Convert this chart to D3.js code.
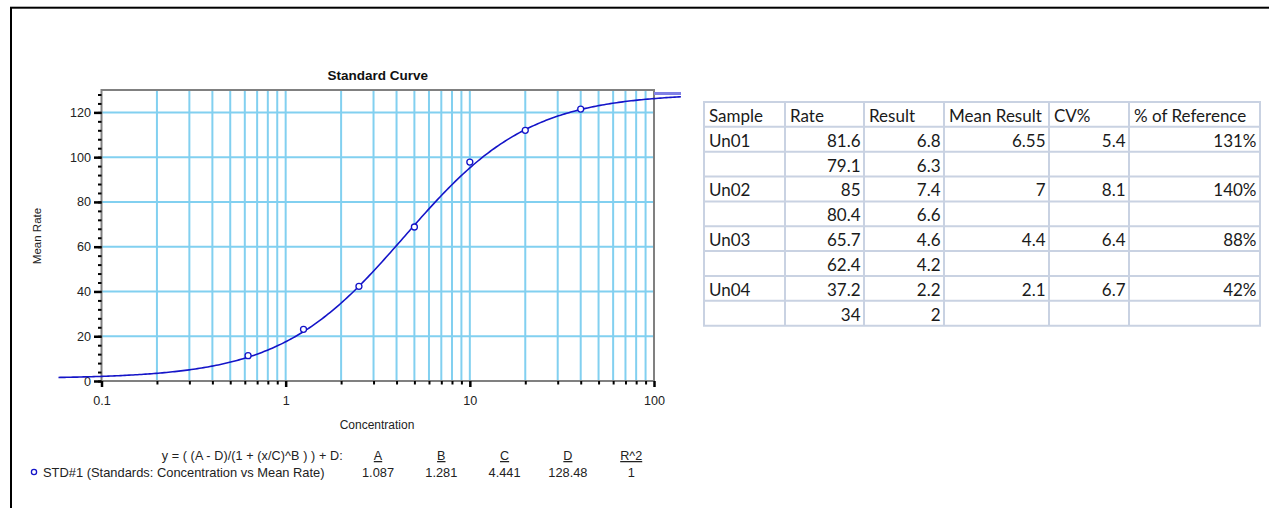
<!DOCTYPE html>
<html><head><meta charset="utf-8">
<script src="https://cdn.jsdelivr.net/npm/d3@7"></script>
<style>body{margin:0;background:#fff;} svg{display:block;}</style>
</head><body>
<svg id="c" width="1269" height="508"></svg>
<script>
// ---- chart data ----
const concentrations = [0.625, 1.25, 2.5, 5, 10, 20, 40];
const meanRates = [11.3, 23.1, 42.3, 68.8, 97.8, 112.0, 121.5];
const fitA = 1.087, fitB = 1.281, fitC = 4.441, fitD = 128.48, fitR2 = 1;
const fitNames = ["A", "B", "C", "D", "R^2"];
const fitValues = ["1.087", "1.281", "4.441", "128.48", "1"];
const yTicks = [0, 20, 40, 60, 80, 100, 120];
const xDecades = [0.1, 1, 10, 100];
const xTickLabels = ["0.1", "1", "10", "100"];
const curveRange = [0.0584, 140];

// ---- table data ----
const tableHeaders = ["Sample", "Rate", "Result", "Mean Result", "CV%", "% of Reference"];
const samples = ["Un01", "", "Un02", "", "Un03", "", "Un04", ""];
const rates = [81.6, 79.1, 85, 80.4, 65.7, 62.4, 37.2, 34];
const results = [6.8, 6.3, 7.4, 6.6, 4.6, 4.2, 2.2, 2];
const meanResults = [6.55, null, 7, null, 4.4, null, 2.1, null];
const cvPercent = [5.4, null, 8.1, null, 6.4, null, 6.7, null];
const pctReference = [131, null, 140, null, 88, null, 42, null];

const svg = d3.select('#c');
const FONT = '"Liberation Sans", Arial, sans-serif';
const gridColor = '#82D0F0';
const blue = '#1414C8';

// outer frame
svg.append('rect').attr('x', 11).attr('y', 7.7).attr('width', 1400).attr('height', 700)
  .attr('fill', 'none').attr('stroke', '#000').attr('stroke-width', 2);

const P = {left: 101.5, right: 654, top: 90, bottom: 381};
const x = d3.scaleLog().domain([0.1, 100]).range([P.left, P.right]);
const y = d3.scaleLinear().domain([0, 130]).range([P.bottom, P.top]);

// grid
const g = svg.append('g');
const vx = x.ticks().filter(v => v > 0.1 && v < 100);
g.selectAll('line.vg').data(vx).join('line')
  .attr('x1', d => x(d)).attr('x2', d => x(d)).attr('y1', P.top).attr('y2', P.bottom)
  .attr('stroke', gridColor).attr('stroke-width', 2);
g.selectAll('line.hg').data(yTicks.filter(v => v > 0)).join('line')
  .attr('x1', P.left).attr('x2', P.right).attr('y1', d => y(d)).attr('y2', d => y(d))
  .attr('stroke', gridColor).attr('stroke-width', 2);

// plot frame
svg.append('rect').attr('x', P.left).attr('y', P.top).attr('width', P.right - P.left).attr('height', P.bottom - P.top)
  .attr('fill', 'none').attr('stroke', '#808080').attr('stroke-width', 2);

// y axis
const yMinor = d3.range(0, 131, 4);
const yaMinor = svg.append('g').attr('transform', `translate(${P.left},0)`)
  .call(d3.axisLeft(y).tickValues(yMinor).tickSize(3.5).tickFormat(''));
yaMinor.select('.domain').remove();
yaMinor.selectAll('line').attr('stroke', '#000').attr('stroke-width', 2);
const ya = svg.append('g').attr('transform', `translate(${P.left},0)`)
  .call(d3.axisLeft(y).tickValues(yTicks).tickSize(7.5).tickPadding(3));
ya.select('.domain').remove();
ya.selectAll('line').attr('stroke', '#000').attr('stroke-width', 2.5);
ya.selectAll('text').attr('font-family', FONT).attr('font-size', 12.6).attr('fill', '#222');

// x axis
const xMinor = x.ticks().filter(v => !xDecades.includes(v));
const xaMinor = svg.append('g').attr('transform', `translate(0,${P.bottom})`)
  .call(d3.axisBottom(x).tickValues(xMinor).tickSize(3.5).tickFormat(''));
xaMinor.select('.domain').remove();
xaMinor.selectAll('line').attr('stroke', '#000').attr('stroke-width', 2);
const xa = svg.append('g').attr('transform', `translate(0,${P.bottom})`)
  .call(d3.axisBottom(x).tickValues(xDecades).tickSize(6).tickFormat((d, i) => xTickLabels[i]));
xa.select('.domain').remove();
xa.selectAll('line').attr('stroke', '#000').attr('stroke-width', 2.5);
xa.selectAll('text').attr('font-family', FONT).attr('font-size', 12.6).attr('fill', '#222')
  .attr('y', 23.5).attr('dy', 0);

// titles
svg.append('text').attr('x', (P.left + P.right) / 2).attr('y', 80).attr('text-anchor', 'middle')
  .attr('font-family', FONT).attr('font-weight', 'bold').attr('font-size', 13.5).attr('fill', '#111')
  .text('Standard Curve');
svg.append('text').attr('x', 377).attr('y', 428.5).attr('text-anchor', 'middle')
  .attr('font-family', FONT).attr('font-size', 12).attr('fill', '#222').text('Concentration');
svg.append('text').attr('transform', 'translate(40.5,236) rotate(-90)').attr('text-anchor', 'middle')
  .attr('font-family', FONT).attr('font-size', 11.5).attr('fill', '#222').text('Mean Rate');

// lavender legend stub
svg.append('rect').attr('x', 654).attr('y', 92).attr('width', 27).attr('height', 3).attr('fill', '#8080E6');

// fitted curve
const fit = v => (fitA - fitD) / (1 + Math.pow(v / fitC, fitB)) + fitD;
const lx = d3.scaleLog().domain(curveRange);
const curvePts = d3.range(0, 301).map(i => lx.invert(i / 300));
svg.append('path').datum(curvePts)
  .attr('d', d3.line().x(d => x(d)).y(d => y(fit(d))))
  .attr('fill', 'none').attr('stroke', blue).attr('stroke-width', 1.6);

// points
svg.selectAll('circle.pt').data(concentrations).join('circle')
  .attr('cx', d => x(d)).attr('cy', (d, i) => y(meanRates[i])).attr('r', 3)
  .attr('fill', '#fff').attr('stroke', blue).attr('stroke-width', 1.3);

// legend
const legCx = [378, 441.3, 504.6, 567.9, 631.2];
svg.append('text').attr('x', 342.7).attr('y', 460).attr('text-anchor', 'end')
  .attr('font-family', FONT).attr('font-size', 12.6).attr('fill', '#222')
  .attr('textLength', 181).attr('lengthAdjust', 'spacing')
  .text('y = ( (A - D)/(1 + (x/C)^B ) ) + D:');
svg.selectAll('text.lh').data(fitNames).join('text')
  .attr('x', (d, i) => legCx[i]).attr('y', 460).attr('text-anchor', 'middle')
  .attr('font-family', FONT).attr('font-size', 12.6).attr('fill', '#222')
  .attr('text-decoration', 'underline').text(d => d);
svg.selectAll('text.lv').data(fitValues).join('text')
  .attr('x', (d, i) => legCx[i]).attr('y', 476.5).attr('text-anchor', 'middle')
  .attr('font-family', FONT).attr('font-size', 12.8).attr('fill', '#222').text(d => d);
svg.append('circle').attr('cx', 34).attr('cy', 472).attr('r', 2.6)
  .attr('fill', '#fff').attr('stroke', blue).attr('stroke-width', 1.3);
svg.append('text').attr('x', 43).attr('y', 476.5)
  .attr('font-family', FONT).attr('font-size', 12.9).attr('fill', '#222')
  .text('STD#1 (Standards: Concentration vs Mean Rate)');

// ---- table ----
const colEdges = [704, 785, 864, 944, 1049, 1129, 1260];
const rowTop = 102, rowH = 24.85, nRows = 9;
const TF = 'Lato, "Open Sans", sans-serif';
const tg = svg.append('g');
const borderCol = '#C9D2E2';
d3.range(nRows + 1).forEach(r => {
  tg.append('line').attr('x1', colEdges[0] - 1).attr('x2', colEdges[6] + 1)
    .attr('y1', rowTop + r * rowH).attr('y2', rowTop + r * rowH)
    .attr('stroke', borderCol).attr('stroke-width', 2);
});
colEdges.forEach(cx => {
  tg.append('line').attr('x1', cx).attr('x2', cx).attr('y1', rowTop).attr('y2', rowTop + nRows * rowH)
    .attr('stroke', borderCol).attr('stroke-width', 2);
});
const baseline = r => rowTop + (r + 1) * rowH - 5;
tableHeaders.forEach((h, c) => {
  tg.append('text').attr('x', colEdges[c] + 5).attr('y', baseline(0))
    .attr('font-family', TF).attr('font-size', 17).attr('fill', '#1a1a1a').text(h);
});
const fmt = v => v == null ? '' : String(v);
const cols = [rates, results, meanResults, cvPercent, pctReference.map(v => v == null ? null : v + '%')];
samples.forEach((s, r) => {
  tg.append('text').attr('x', colEdges[0] + 5).attr('y', baseline(r + 1))
    .attr('font-family', TF).attr('font-size', 17).attr('fill', '#1a1a1a').text(s);
  cols.forEach((arr, c) => {
    tg.append('text').attr('x', colEdges[c + 2] - 3.5).attr('y', baseline(r + 1)).attr('text-anchor', 'end')
      .attr('font-family', TF).attr('font-size', 17).attr('fill', '#1a1a1a').text(fmt(arr[r]));
  });
});
</script>
</body></html>
